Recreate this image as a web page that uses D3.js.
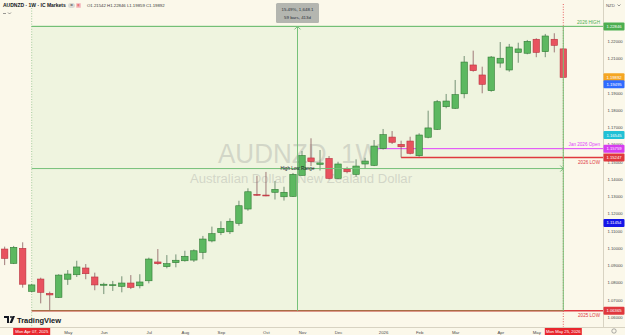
<!DOCTYPE html>
<html>
<head>
<meta charset="utf-8">
<script src="https://cdn.jsdelivr.net/npm/d3@7"></script>
<style>
  html, body { margin: 0; padding: 0; background: #fbf8ea; }
  svg { display: block; font-family: "Liberation Sans", Arial, sans-serif; }
</style>
</head>
<body>
<div id="chart"></div>
<script>
// AUDNZD weekly candles, IC Markets, 17 Mar 2025 -> 25 May 2026
const W = 625, H = 335;

const opens  = [1.0994,1.0911,1.0998,1.0749,1.0820,1.0737,1.0714,1.0819,1.0845,1.0884,1.0832,1.0784,1.0785,1.0778,1.0797,1.0781,1.0810,1.0919,1.0892,1.0915,1.0926,1.0930,1.0975,1.1041,1.1089,1.1094,1.1143,1.1226,1.1311,1.1307,1.1323,1.1297,1.1299,1.1421,1.1522,1.1485,1.1519,1.1404,1.1458,1.1427,1.1487,1.1479,1.15759,1.1643,1.1601,1.1620,1.1535,1.1642,1.1688,1.1819,1.1810,1.1894,1.2061,1.2003,1.1912,1.2072,1.2032,1.2134,1.2129,1.2210,1.2138,1.2210,1.21542];
const highs  = [1.1008,1.1012,1.1033,1.0791,1.0828,1.0747,1.0848,1.0872,1.0926,1.0907,1.0857,1.0799,1.0809,1.0836,1.0843,1.0848,1.0944,1.0994,1.0959,1.0963,1.0984,1.0992,1.1070,1.1124,1.1155,1.1172,1.1274,1.1346,1.1418,1.1441,1.1388,1.1355,1.1435,1.1562,1.1636,1.1568,1.1533,1.1500,1.1471,1.1514,1.1523,1.1626,1.1690,1.1678,1.1622,1.1645,1.1665,1.1796,1.1858,1.1893,1.1974,1.2113,1.2144,1.2051,1.2113,1.2194,1.2183,1.2190,1.2206,1.2216,1.2241,1.2245,1.2160];
const lows   = [1.0901,1.0907,1.0770,1.0743,1.0679,1.06365,1.0710,1.0786,1.0832,1.0819,1.0755,1.0733,1.0751,1.0743,1.0762,1.0766,1.0795,1.0903,1.0882,1.0888,1.0921,1.0919,1.0935,1.1033,1.1075,1.1081,1.1129,1.1216,1.1302,1.1300,1.1281,1.1275,1.1296,1.1420,1.1475,1.1449,1.1398,1.1400,1.1433,1.1413,1.1458,1.1475,1.1571,1.1603,1.15247,1.1543,1.1529,1.1636,1.1684,1.1810,1.1806,1.1868,1.2022,1.1897,1.1906,1.2045,1.2022,1.2074,1.2123,1.2106,1.2106,1.2134,1.19859];
const closes = [1.0940,1.1004,1.0790,1.0786,1.0743,1.0728,1.0843,1.0849,1.0890,1.0851,1.0786,1.0790,1.0787,1.0797,1.0772,1.0803,1.0936,1.0909,1.0909,1.0929,1.0952,1.0984,1.1052,1.1083,1.1114,1.1155,1.1245,1.1326,1.1306,1.1303,1.1340,1.1323,1.1427,1.1536,1.1501,1.1493,1.1404,1.1487,1.1442,1.1475,1.1504,1.1591,1.1657,1.1613,1.1587,1.1549,1.1655,1.1696,1.1848,1.1852,1.1889,1.2078,1.2028,1.1949,1.2107,1.2100,1.2165,1.2154,1.2198,1.2134,1.2229,1.2175,1.19892];

const monthLabels = ["May","Jun","Jul","Aug","Sep","Oct","Nov","Dec","2026","Feb","Mar","Apr","May"];

const levelNames  = ["2026 HIGH", "Jan 2026 Open", "2026 LOW", "2025 LOW"];
const levelValues = [1.22846, 1.15759, 1.15247, 1.06365];
const levelStarts = ["2025-04-07", "2026-01-01", "2026-01-19", "2025-04-07"];
const levelColors = ["#4caf50", "#e040fb", "#e0383e", "#e0383e"];

const scaleMarks  = [1.22846, 1.19892, 1.19495, 1.16545, 1.15759, 1.15247, 1.11454, 1.06365];
const markColors  = ["#4caf50", "#f5a623", "#2f6bff", "#22c1d6", "#d63df0", "#e0383e", "#1515e8", "#e0383e"];

const rangeFrom = "2025-04-07", rangeTo = "2026-05-25";
const rangeLow = 1.06365, rangeHigh = 1.22846;

const parse = d3.timeParse("%Y-%m-%d");
const weeks = d3.timeMonday.range(parse("2025-03-17"), parse("2026-05-26"));
const bars = weeks.map((d, i) => ({date: d, o: opens[i], h: highs[i], l: lows[i], c: closes[i]}));

const x = d3.scaleTime().domain([parse(rangeFrom), parse(rangeTo)]).range([31.7, 563.3]);
const y = d3.scaleLinear().domain([1.06, 1.22]).range([317, 41]);

const axisX = 603, axisY = 327;
const green = "#76c179";

const svg = d3.select("#chart").append("svg").attr("width", W).attr("height", H);
svg.append("rect").attr("width", W).attr("height", H).attr("fill", "#fbf8ea");

const x0 = x(parse(rangeFrom)), x1 = x(parse(rangeTo));
const yHi = y(rangeHigh), yLo = y(rangeLow);

// range box fill
svg.append("rect")
  .attr("x", x0).attr("y", yHi).attr("width", x1 - x0).attr("height", yLo - yHi)
  .attr("fill", "#eff4df");

// dotted date markers
svg.append("line").attr("x1", x1).attr("x2", x1).attr("y1", 4).attr("y2", axisY)
  .attr("stroke", "#e0383e").attr("stroke-width", 0.8).attr("stroke-dasharray", "1,1.6");
svg.append("line").attr("x1", x0).attr("x2", x0).attr("y1", 8).attr("y2", axisY)
  .attr("stroke", "#8fbf8c").attr("stroke-width", 0.8).attr("stroke-dasharray", "1,1.6");

// watermark
svg.append("text").attr("x", 299).attr("y", 163).attr("text-anchor", "middle")
  .attr("font-size", 27).attr("fill", "#c9ccc0").attr("fill-opacity", 0.75)
  .attr("textLength", 162).attr("lengthAdjust", "spacingAndGlyphs")
  .text("AUDNZD, 1W");
svg.append("text").attr("x", 301).attr("y", 183).attr("text-anchor", "middle")
  .attr("font-size", 12.5).attr("fill", "#c9ccc0").attr("fill-opacity", 0.75)
  .attr("textLength", 222).attr("lengthAdjust", "spacingAndGlyphs")
  .text("Australian Dollar / New Zealand Dollar");

// horizontal levels
levelValues.forEach((v, i) => {
  svg.append("line")
    .attr("x1", x(parse(levelStarts[i]))).attr("x2", axisX)
    .attr("y1", y(v)).attr("y2", y(v))
    .attr("stroke", levelColors[i])
    .attr("stroke-width", i < 2 ? 1 : 1.4);
});

// candles
const bw = 6.4;
const g = svg.append("g");
const candle = g.selectAll("g.c").data(bars).enter().append("g").attr("class", "c");
candle.append("line")
  .attr("x1", d => x(d.date)).attr("x2", d => x(d.date))
  .attr("y1", d => y(d.h)).attr("y2", d => y(d.l))
  .attr("stroke", d => d.c >= d.o ? "#55785a" : "#8a5a5e").attr("stroke-width", 0.8);
candle.append("rect")
  .attr("x", d => x(d.date) - bw / 2).attr("width", bw)
  .attr("y", d => y(Math.max(d.o, d.c)))
  .attr("height", d => Math.max(0.9, Math.abs(y(d.o) - y(d.c))))
  .attr("fill", d => d.c >= d.o ? "#5cb860" : "#e8525f")
  .attr("stroke", d => d.c >= d.o ? "#2f7a33" : "#b8323e").attr("stroke-width", 0.6);

// range box outline
svg.append("line").attr("x1", x1).attr("x2", x1).attr("y1", yHi).attr("y2", yLo)
  .attr("stroke", green).attr("stroke-width", 1);
svg.append("line").attr("x1", x0).attr("x2", x1).attr("y1", yLo).attr("y2", yLo)
  .attr("stroke", "#6aa84f").attr("stroke-opacity", 0.6).attr("stroke-width", 1);
svg.append("line").attr("x1", x0).attr("x2", axisX).attr("y1", yHi).attr("y2", yHi)
  .attr("stroke", green).attr("stroke-width", 1);

// mid lines of the range tool
const midDate = new Date((parse(rangeFrom).getTime() + parse(rangeTo).getTime()) / 2);
const xm = x(midDate), ym = y((rangeLow + rangeHigh) / 2);
svg.append("line").attr("x1", xm).attr("x2", xm).attr("y1", yHi).attr("y2", yLo)
  .attr("stroke", green).attr("stroke-width", 1);
svg.append("line").attr("x1", x0).attr("x2", x1).attr("y1", ym).attr("y2", ym)
  .attr("stroke", green).attr("stroke-width", 1);
svg.append("path").attr("d", `M${xm - 3},${yHi + 3}L${xm},${yHi}L${xm + 3},${yHi + 3}`)
  .attr("fill", "none").attr("stroke", green).attr("stroke-width", 1);
svg.append("path").attr("d", `M${x1 - 3},${ym - 3}L${x1},${ym}L${x1 - 3},${ym + 3}`)
  .attr("fill", "none").attr("stroke", green).attr("stroke-width", 1);
svg.append("text").attr("x", xm).attr("y", ym + 1.5).attr("text-anchor", "middle")
  .attr("font-size", 4.6).attr("fill", "#131722").text("High Low Range");

// range info box
const nBars = d3.timeWeek.count(parse(rangeFrom), parse(rangeTo));
const nDays = d3.timeDay.count(parse(rangeFrom), parse(rangeTo));
const diff = rangeHigh - rangeLow;
svg.append("rect").attr("x", xm - 21.5).attr("y", 3).attr("width", 43).attr("height", 20)
  .attr("rx", 1.5).attr("fill", "#b4b6b0");
svg.append("text").attr("x", xm).attr("y", 11).attr("text-anchor", "middle")
  .attr("font-size", 4.4).attr("fill", "#2a2e39")
  .text(`${(diff / rangeLow * 100).toFixed(2)}%, ${d3.format(",.1f")(diff * 10000)}`);
svg.append("text").attr("x", xm).attr("y", 18.5).attr("text-anchor", "middle")
  .attr("font-size", 4.4).attr("fill", "#2a2e39")
  .text(`${nBars} bars, ${nDays}d`);

// level texts
const levelTextY = [-2.5, -2.5, 6.5, 6];
levelValues.forEach((v, i) => {
  svg.append("text").attr("x", 600).attr("y", y(v) + levelTextY[i])
    .attr("text-anchor", "end").attr("font-size", 4.6)
    .attr("fill", levelColors[i])
    .text(levelNames[i]);
});

// price axis
svg.append("rect").attr("x", axisX).attr("y", 0).attr("width", W - axisX).attr("height", H).attr("fill", "#fbf8ea");
svg.append("rect").attr("x", 0).attr("y", axisY).attr("width", W).attr("height", H - axisY).attr("fill", "#fbf8ea");
svg.append("line").attr("x1", axisX + 0.5).attr("x2", axisX + 0.5).attr("y1", 0).attr("y2", axisY)
  .attr("stroke", "#d8d3c2").attr("stroke-width", 1);
svg.append("line").attr("x1", 0).attr("x2", W).attr("y1", axisY + 0.5).attr("y2", axisY + 0.5)
  .attr("stroke", "#d8d3c2").attr("stroke-width", 1);

const yTicks = d3.range(106, 123).map(v => v / 100)
  .filter(v => !scaleMarks.some(m => Math.abs(y(m) - y(v)) < 3));
const yAxis = d3.axisRight(y).tickValues(yTicks).tickFormat(d3.format(".5f")).tickSize(0).tickPadding(0);
const ya = svg.append("g").attr("transform", `translate(${axisX + 4.5},0)`).call(yAxis);
ya.select(".domain").remove();
ya.selectAll("text").attr("font-size", 4.2).attr("fill", "#4a4a4a").attr("font-family", "Liberation Sans, Arial, sans-serif");

scaleMarks.forEach((v, i) => {
  svg.append("rect").attr("x", axisX + 0.5).attr("y", y(v) - 4).attr("width", 21).attr("height", 8)
    .attr("rx", 1).attr("fill", markColors[i]);
  svg.append("text").attr("x", axisX + 11).attr("y", y(v) + 1.5).attr("text-anchor", "middle")
    .attr("font-size", 4.2).attr("fill", "#fff").text(d3.format(".5f")(v));
});

// time axis: first weekly bar of each month after the range start
const monthStarts = weeks.filter((d, i) => i > 0 && d > parse(rangeFrom) && d.getMonth() !== weeks[i - 1].getMonth());
const xAxis = d3.axisBottom(x).tickValues(monthStarts).tickFormat((d, i) => monthLabels[i]).tickSize(0).tickPadding(0);
const xa = svg.append("g").attr("transform", `translate(0,${axisY + 4})`).call(xAxis);
xa.select(".domain").remove();
xa.selectAll("text").attr("font-size", 4.3).attr("fill", "#4a4a4a").attr("font-family", "Liberation Sans, Arial, sans-serif");

const fmtDay = d3.timeFormat("%a %b %d, %Y");
[rangeFrom, rangeTo].forEach(s => {
  const cx = x(parse(s));
  svg.append("rect").attr("x", cx - 18.5).attr("y", axisY + 1).attr("width", 37).attr("height", 7.5)
    .attr("fill", "#e8262d");
  svg.append("text").attr("x", cx).attr("y", axisY + 6.3).attr("text-anchor", "middle")
    .attr("font-size", 4.2).attr("fill", "#fff").text(fmtDay(parse(s)));
});

// corner icon
svg.append("circle").attr("cx", 614).attr("cy", 331).attr("r", 2.2)
  .attr("fill", "none").attr("stroke", "#777").attr("stroke-width", 0.6);

// header
svg.append("text").attr("x", 3).attr("y", 7).attr("font-size", 5).attr("font-weight", "bold")
  .attr("fill", "#131722").text("AUDNZD · 1W · IC Markets");
svg.append("rect").attr("x", 68).attr("y", 3).attr("width", 7).attr("height", 5).attr("rx", 2.5).attr("fill", "#dcdcd6");
svg.append("text").attr("x", 71.5).attr("y", 7).attr("text-anchor", "middle").attr("font-size", 4.5).attr("fill", "#444").text("=");
svg.append("rect").attr("x", 76).attr("y", 3).attr("width", 5).attr("height", 5).attr("rx", 1).attr("fill", "#f6c4c6");
svg.append("text").attr("x", 78.5).attr("y", 7).attr("text-anchor", "middle").attr("font-size", 4.5).attr("fill", "#e0383e").text("≡");
svg.append("text").attr("x", 87).attr("y", 7).attr("font-size", 4.3).attr("fill", "#3a3a3a")
  .text("O1.21542 H1.22846 L1.19859 C1.19892");
svg.append("path").attr("d", "M3,13.5H6M8,12.5L9.5,14L11,12.5").attr("fill", "none").attr("stroke", "#555").attr("stroke-width", 0.6);

svg.append("text").attr("x", 606).attr("y", 7).attr("font-size", 4.3).attr("fill", "#555").text("NZD");
svg.append("path").attr("d", "M617.5,4.5L619,6L620.5,4.5").attr("fill", "none").attr("stroke", "#555").attr("stroke-width", 0.6);

// branding
const logo = svg.append("g").attr("transform", "translate(4,316)");
logo.append("path").attr("d", "M0,0H5V7H3V2H0Z").attr("fill", "#131722");
logo.append("circle").attr("cx", 7).attr("cy", 1).attr("r", 1).attr("fill", "#131722");
logo.append("path").attr("d", "M8.5,0H11L8,7H5.5Z").attr("fill", "#131722");
svg.append("text").attr("x", 17).attr("y", 323).attr("font-size", 7.5).attr("font-weight", "bold")
  .attr("fill", "#131722").text("TradingView");
</script>
</body>
</html>
